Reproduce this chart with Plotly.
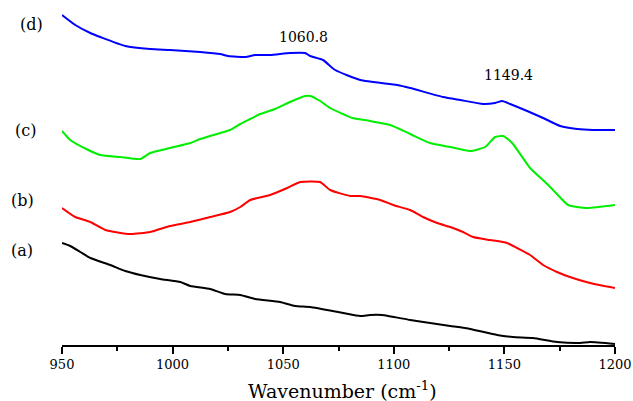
import plotly.graph_objects as go

# Wavenumber (cm^-1) and intensity (arbitrary units)
wn_d = [950, 956, 962.8, 967.3, 978.6, 989.9, 998.9, 1012.5, 1021.5, 1025.1, 1032.8, 1037.3, 1044.1,
        1053.1, 1059.9, 1062.2, 1068, 1073.5, 1084.8, 1101.5, 1107.4, 1122.3, 1130, 1140.4, 1145.8,
        1149, 1152.6, 1160.3, 1167.5, 1175.2, 1182.9, 1190.1, 1200]
int_d = [330, 320, 312, 308, 299, 296, 295, 293, 291, 289, 288, 290, 290,
         292, 292, 289, 285, 275, 265, 260, 257, 248, 245, 241, 242,
         244, 241, 234, 227, 219, 216, 215, 215]

wn_c = [950, 953.7, 961.9, 967.3, 976.3, 985.4, 989.9, 998.9, 1008, 1012.5, 1021.5, 1026, 1030.6,
        1035.1, 1039.6, 1046.4, 1053.1, 1059.9, 1062.2, 1066.7, 1071.2, 1078, 1081.2, 1089.3, 1098.4,
        1107.4, 1116.4, 1125.5, 1134.5, 1141.3, 1145.8, 1149.5, 1153.5, 1161.6, 1168.4, 1172.9,
        1178.8, 1187.4, 1200]
int_c = [214, 205, 195, 190, 188, 186, 192, 197, 202, 206, 212, 215, 221,
         226, 231, 236, 243, 249, 249, 244, 237, 230, 227, 224, 220,
         211, 202, 198, 194, 198, 208, 209, 202, 177, 163, 153,
         140, 137, 140]

wn_b = [950, 956, 962.8, 969.6, 980.9, 989.9, 998.9, 1008, 1017, 1026, 1030.6, 1035.1, 1044.1,
        1051.8, 1057.7, 1066.7, 1071.2, 1080.3, 1084.8, 1093.8, 1099.7, 1107.4, 1113.2, 1119.6,
        1125.5, 1131.3, 1135.8, 1143.5, 1151.2, 1155.7, 1161.6, 1167.5, 1173.8, 1179.6, 1188.7, 1200]
int_b = [137, 128, 123, 115, 111, 113, 119, 123, 128, 133, 138, 145, 150,
         157, 163, 163, 155, 149, 149, 145, 140, 135, 128, 122,
         118, 113, 108, 105, 102, 97, 90, 80, 73, 68, 62, 57]

wn_a = [950, 953.7, 958.3, 962.8, 971.8, 978.6, 985.4, 994.4, 1003.5, 1008, 1017, 1023.8, 1030.6,
        1037.3, 1048.6, 1055.4, 1062.2, 1077.1, 1084.8, 1089.3, 1094.7, 1107.4, 1116.4, 1125.5,
        1134.5, 1146.7, 1153.9, 1162.9, 1173.8, 1184.2, 1188.7, 1200]
int_a = [102, 99, 93, 87, 80, 74, 70, 66, 63, 59, 56, 51, 50,
         46, 43, 39, 38, 32, 29, 30, 30, 25, 22, 19,
         16, 10, 8, 7, 3, 2, 3, 1]

series = [("(a)", wn_a, int_a, "#000000"),
          ("(b)", wn_b, int_b, "#ff0000"),
          ("(c)", wn_c, int_c, "#00ee00"),
          ("(d)", wn_d, int_d, "#0000ff")]

label_pos = {"(a)": (22, 251), "(b)": (22, 200), "(c)": (25, 130), "(d)": (31, 24)}
peak_labels = ["1060.8", "1149.4"]
peak_pos = [(303, 37), (508, 75)]

W, H = 633, 401
L, R, T, B = 62, 18, 0, 56

fig = go.Figure()
for name, x, y, c in series:
    fig.add_trace(go.Scatter(x=x, y=y, mode="lines", name=name,
                             line=dict(color=c, width=2, shape="spline", smoothing=0.5),
                             showlegend=False))

serif = "DejaVu Serif"
pw, ph = W - L - R, H - T - B


def to_paper(px, py):
    return (px - L) / pw, 1 - (py - T) / ph


anns = []
for name, (px, py) in label_pos.items():
    x, y = to_paper(px, py)
    anns.append(dict(x=x, y=y, xref="paper", yref="paper", text=name,
                     showarrow=False, font=dict(family=serif, size=16, color="#000"),
                     xanchor="center", yanchor="middle"))
for txt, (px, py) in zip(peak_labels, peak_pos):
    x, y = to_paper(px, py)
    anns.append(dict(x=x, y=y, xref="paper", yref="paper", text=txt,
                     showarrow=False, font=dict(family=serif, size=14, color="#000"),
                     xanchor="center", yanchor="middle"))
x, y = to_paper(342, 390)
anns.append(dict(x=x, y=y, xref="paper", yref="paper",
                 text="Wavenumber (cm<sup>-1</sup>)", showarrow=False,
                 font=dict(family=serif, size=19, color="#000"),
                 xanchor="center", yanchor="middle"))

fig.update_layout(
    width=W, height=H,
    margin=dict(l=L, r=R, t=T, b=B, pad=0),
    paper_bgcolor="white", plot_bgcolor="white",
    font=dict(family=serif),
    xaxis=dict(range=[950, 1200], tickvals=[950, 1000, 1050, 1100, 1150, 1200],
               ticks="outside", ticklen=7, tickwidth=1.5, tickcolor="#000",
               showline=True, linecolor="#000", linewidth=1.5, showgrid=False, zeroline=False,
               tickfont=dict(family=serif, size=13, color="#000"),
               minor=dict(tickvals=[975, 1025, 1075, 1125, 1175], ticks="outside", ticklen=4,
                          tickwidth=1.5, tickcolor="#000", showgrid=False)),
    yaxis=dict(range=[0, 345], visible=False, showgrid=False, zeroline=False),
    annotations=anns,
)

fig.write_html("out.html")
